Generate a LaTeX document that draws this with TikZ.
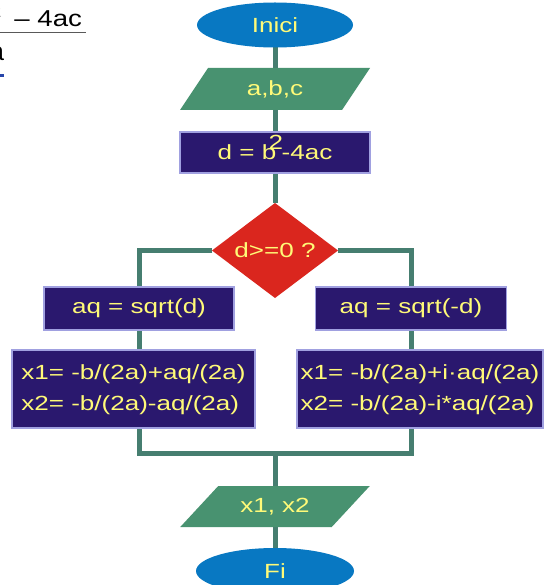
\documentclass[tikz,border=0pt]{standalone}
\usepackage{fontspec}
\setmainfont{Liberation Sans}
\usepackage{graphicx}
\usetikzlibrary{shapes.geometric,backgrounds}
\definecolor{ellblue}{RGB}{8,120,194}
\definecolor{parGreen}{RGB}{72,146,112}
\definecolor{boxNavy}{RGB}{42,24,110}
\definecolor{boxEdge}{RGB}{160,160,224}
\definecolor{decRed}{RGB}{218,38,30}
\definecolor{lineTeal}{RGB}{70,126,112}
\definecolor{txtYellow}{RGB}{255,250,120}
\definecolor{dotBlue}{RGB}{40,70,170}
\newcommand\sq[1]{\scalebox{1.27}[1]{#1}}
\begin{document}
\begin{tikzpicture}[x=1pt,y=-1pt,
  every node/.style={inner sep=0pt, outer sep=0pt, font=\fontsize{20.5}{31}\selectfont, text=txtYellow},
  termnode/.style={ellipse, fill=ellblue},
  iobox/.style={rectangle},
  procbox/.style={rectangle, fill=boxNavy, draw=boxEdge, line width=1.2pt},
  decnode/.style={diamond, fill=decRed},
  fragtext/.style={text=black},
  flow/.style={draw=lineTeal, line width=5pt}
]
\useasboundingbox (0,0) rectangle (544,585);
\clip (0,0) rectangle (544,585);

% fragment of a formula at top left
\node[fragtext, anchor=base east, font=\fontsize{23}{27}\selectfont] (numfrag) at (82,27) {\scalebox{1.2}[1]{b\textsuperscript{2}\hspace{0.45em}– 4ac}};
\draw[black!65, line width=1.5pt] (0,32.5) -- (86,32.5);
\node[fragtext, anchor=base east, font=\fontsize{26}{30}\selectfont] (denfrag) at (4,61) {2a};
\fill[dotBlue] (0,74) rectangle (4,77);

% flowchart nodes
\node[termnode, minimum width=156pt, minimum height=45pt] (inici) at (275,25) {\sq{Inici}};
\node[iobox, minimum width=162pt, minimum height=42pt] (abc) at (275,89) {\sq{a,b,c}};
\node[procbox, minimum width=190pt, minimum height=41pt] (dcalc) at (275,152.5) {\sq{d = b\kern-0.3em\smash{\raisebox{0.5em}{2}}\kern-0.05em-4ac}};
\node[decnode, minimum width=126pt, minimum height=95pt] (dec) at (275,250.5) {};
\node (dectext) at (dec.center) {\sq{d>=0 ?}};
\node[procbox, minimum width=190pt, minimum height=43pt] (aqL) at (139,308.5) {\sq{aq = sqrt(d)}};
\node[procbox, minimum width=191pt, minimum height=43pt] (aqR) at (411,308.5) {\sq{aq = sqrt(-d)}};
\node[procbox, minimum width=243pt, minimum height=78pt] (xL) at (133.5,389) {\sq{\begin{tabular}{@{}l@{}}x1= -b/(2a)+aq/(2a)\\x2= -b/(2a)-aq/(2a)\end{tabular}}};
\node[procbox, minimum width=246pt, minimum height=78pt] (xR) at (420,389) {\sq{\begin{tabular}{@{}l@{}}x1= -b/(2a)+i·aq/(2a)\\x2= -b/(2a)-i*aq/(2a)\end{tabular}}};
\coordinate (merge) at (275,453);
\node[iobox, minimum width=151.5pt, minimum height=41pt] (outp) at (275,506.5) {\sq{x1, x2}};
\node[termnode, minimum width=158pt, minimum height=46pt] (fi) at (275,571) {\sq{Fi}};

\begin{pgfonlayer}{background}
\fill[white] (0,0) rectangle (544,585);
\draw[flow] (inici.south) -- (abc.north);
\draw[flow] (abc.south) -- (dcalc.north);
\draw[flow] (dcalc.south) -- (dec.north);
\draw[flow] (dec.west) -| (aqL.north);
\draw[flow] (dec.east) -| (aqR.north);
\draw[flow] (aqL.south) -- (aqL.south |- xL.north);
\draw[flow] (aqR.south) -- (aqR.south |- xR.north);
\draw[flow] (aqL.south |- xL.south) |- (merge) -| (aqR.south |- xR.south);
\draw[flow] (merge) -- (outp.north);
\draw[flow] (outp.south) -- (fi.north);
\fill[parGreen] ([xshift=-14pt]abc.south west) -- ([xshift=-14pt]abc.south east) -- ([xshift=14pt]abc.north east) -- ([xshift=14pt]abc.north west) -- cycle;
\fill[parGreen] ([xshift=-19pt]outp.south west) -- ([xshift=-19pt]outp.south east) -- ([xshift=19pt]outp.north east) -- ([xshift=19pt]outp.north west) -- cycle;
\end{pgfonlayer}
\end{tikzpicture}
\end{document}
